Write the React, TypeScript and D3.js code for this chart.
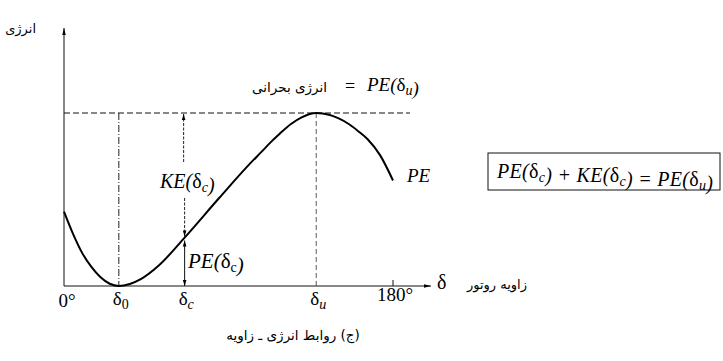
import React from "react";
import * as d3 from "d3";

// Potential energy curve PE(δ) sampled along the rotor angle (degrees)
const angles = [0, 5, 10, 15, 20, 25, 30, 36, 42, 52, 66, 85, 102, 108, 113, 118, 124, 130, 138, 145, 150, 156, 161, 166, 173, 180];
const peValues = [0.43, 0.3, 0.19, 0.11, 0.05, 0.013, 0, 0.012, 0.04, 0.12, 0.28, 0.51, 0.71, 0.775, 0.83, 0.88, 0.935, 0.975, 1.0, 0.99, 0.97, 0.935, 0.895, 0.85, 0.755, 0.61];

// Characteristic angles: δ0 (stable), δc (clearing), δu (unstable)
const keyNames = ["0", "c", "u"];
const keyAngles = [30, 66, 138];
const keyPE = [0, 0.28, 1.0];

// Axis end labels
const edgeAngles = [0, 180];
const edgeLabels = ["0°", "180°"];

const caption = "(ج) روابط انرژی ـ زاویه";

const W = 723;
const H = 361;

const serif = "'Liberation Serif', 'Times New Roman', serif";
const persian = "'DejaVu Sans', sans-serif";

export default function App() {
  const x = d3.scaleLinear().domain([0, 180]).range([64, 393]);
  const y = d3.scaleLinear().domain([0, 1]).range([286, 113]);

  const pts = angles.map((a, i) => [a, peValues[i]] as [number, number]);
  const line = d3
    .line<[number, number]>()
    .x((d) => x(d[0]))
    .y((d) => y(d[1]))
    .curve(d3.curveMonotoneX);

  const [d0, dc, du] = keyAngles;
  const peC = keyPE[1];
  const peU = keyPE[2];
  const baseY = y(0);
  const critY = y(peU);

  const sub = (t: string, italic = true) => (
    <tspan dy={4} fontSize={14} fontStyle={italic ? "italic" : "normal"}>
      {t}
    </tspan>
  );
  const up = <tspan dy={-4}></tspan>;
  const delta = <tspan fontStyle="normal">δ</tspan>;

  return (
    <svg
      width={W}
      height={H}
      viewBox={`0 0 ${W} ${H}`}
      style={{ position: "absolute", left: 0, top: 0, background: "#fff" }}
    >
      <defs>
        <marker id="ah" viewBox="0 0 10 10" refX={10} refY={5} markerWidth={7} markerHeight={6} orient="auto-start-reverse">
          <path d="M0,2 L10,5 L0,8 z" fill="#000" />
        </marker>
        <marker id="axh" viewBox="0 0 10 10" refX={10} refY={5} markerWidth={9} markerHeight={7} orient="auto">
          <path d="M0,2.5 L10,5 L0,7.5 z" fill="#000" />
        </marker>
      </defs>

      {/* axes */}
      <line x1={x(0)} y1={baseY} x2={x(0)} y2={28} stroke="#111" strokeWidth={1} markerEnd="url(#axh)" />
      <line x1={x(0)} y1={baseY} x2={431} y2={baseY} stroke="#111" strokeWidth={1} markerEnd="url(#axh)" />
      <line x1={x(180)} y1={baseY} x2={x(180)} y2={baseY - 6} stroke="#111" strokeWidth={1} />

      {/* critical energy level */}
      <line x1={x(0)} y1={critY} x2={410} y2={critY} stroke="#111" strokeWidth={1} strokeDasharray="6,3" />

      {/* verticals at δ0 and δu */}
      <line x1={x(d0)} y1={critY} x2={x(d0)} y2={baseY} stroke="#222" strokeWidth={1} strokeDasharray="7,2,1,2" />
      <line x1={x(du)} y1={critY} x2={x(du)} y2={baseY} stroke="#444" strokeWidth={0.9} strokeDasharray="5,3" />

      {/* KE(δc) arrows */}
      <line x1={x(dc) - 1} y1={162} x2={x(dc) - 1} y2={critY + 1} stroke="#222" strokeWidth={1} strokeDasharray="3,1.5" markerEnd="url(#ah)" />
      <line x1={x(dc)} y1={198} x2={x(dc)} y2={y(peC) - 1} stroke="#222" strokeWidth={1} strokeDasharray="3,1.5" markerEnd="url(#ah)" />
      {/* PE(δc) arrow */}
      <line x1={x(dc)} y1={y(peC) + 3} x2={x(dc)} y2={baseY} stroke="#111" strokeWidth={1} markerStart="url(#ah)" markerEnd="url(#ah)" />

      {/* PE curve */}
      <path d={line(pts) || ""} fill="none" stroke="#000" strokeWidth={2} />

      {/* tick labels */}
      {edgeAngles.map((a, i) => (
        <text
          key={edgeLabels[i]}
          x={x(a) + (i === 0 ? 3 : 2)}
          y={i === 0 ? 307 : 301}
          textAnchor="middle"
          fontFamily={serif}
          fontSize={19}
        >
          {edgeLabels[i]}
        </text>
      ))}
      {keyAngles.map((a, i) => (
        <text key={keyNames[i]} x={x(a) - 6} y={305} fontFamily={serif} fontSize={19}>
          δ{sub(keyNames[i], i !== 0)}
        </text>
      ))}

      {/* axis titles */}
      <text x={36} y={33} textAnchor="start" direction="rtl" fontFamily={persian} fontSize={13}>
        انرژی
      </text>
      <text x={437} y={289} fontFamily={serif} fontSize={20}>
        δ
      </text>
      <text x={527} y={289} direction="rtl" textAnchor="start" fontFamily={persian} fontSize={13}>
        زاویه روتور
      </text>

      {/* critical energy annotation */}
      <text x={327} y={92} direction="rtl" textAnchor="start" fontFamily={persian} fontSize={13.5}>
        انرژی بحرانی
      </text>
      <text x={350} y={92} textAnchor="middle" fontFamily={serif} fontSize={18}>
        =
      </text>
      <text x={367} y={91} fontFamily={serif} fontSize={19} fontStyle="italic">
        PE({delta}
        {sub("u")}
        {up})
      </text>

      {/* curve and arrow labels */}
      <text x={160} y={188} fontFamily={serif} fontSize={20} fontStyle="italic">
        KE({delta}
        {sub("c")}
        {up})
      </text>
      <text x={188} y={268} fontFamily={serif} fontSize={21} fontStyle="italic">
        PE({delta}
        {sub("c", false)}
        {up})
      </text>
      <text x={407} y={182} fontFamily={serif} fontSize={19} fontStyle="italic">
        PE
      </text>

      {/* energy balance box */}
      <rect x={488} y={153} width={232} height={37} fill="none" stroke="#111" strokeWidth={1} />
      <text x={497} y={178} fontFamily={serif} fontSize={20} fontStyle="italic" textLength={216} lengthAdjust="spacing">
        PE({delta}
        {sub("c")}
        {up}) + KE({delta}
        {sub("c")}
        {up}) = PE({delta}
        {sub("u")}
        {up})
      </text>

      {/* caption */}
      <text x={293} y={340} textAnchor="middle" direction="rtl" fontFamily={persian} fontSize={13.5}>
        {caption}
      </text>
    </svg>
  );
}
